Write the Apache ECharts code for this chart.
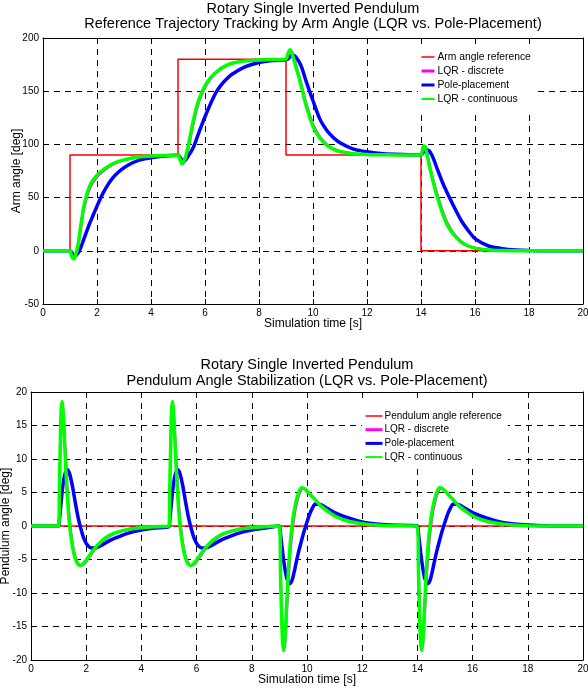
<!DOCTYPE html>
<html>
<head>
    <meta charset="UTF-8">
    <title>Rotary Single Inverted Pendulum</title>
    <script type="text/javascript" src="https://cdn.jsdelivr.net/npm/echarts@6/dist/echarts.min.js"></script>
    <style>
        body, html {
            margin: 0;
            padding: 0;
            background: #fff;
        }
        #chart {
            width: 588px;
            height: 691px;
        }
    </style>
</head>
<body>
<div id="chart"></div>
<script>
    // ---- arm angle plot (top) ----
    var armRefT = [0, 1, 5, 9, 14, 20];
    var armRef = [0, 90, 180, 90, 0, 0];

    var armT = [0, 1.0, 1.05, 1.1, 1.15, 1.2, 1.3, 1.4, 1.5, 1.6, 1.7, 1.8, 2.0, 2.2, 2.4, 2.6, 2.8, 3.0, 3.3, 3.6, 4.0, 4.5,
        5.0, 5.05, 5.1, 5.15, 5.2, 5.3, 5.4, 5.5, 5.6, 5.7, 5.8, 6.0, 6.2, 6.4, 6.6, 6.8, 7.0, 7.5, 8.0, 8.5,
        9.0, 9.05, 9.1, 9.15, 9.2, 9.3, 9.4, 9.5, 9.6, 9.75, 10.0, 10.25, 10.5, 10.75, 11.0, 11.5, 12.0, 12.5, 13.0,
        14.0, 14.05, 14.1, 14.15, 14.2, 14.3, 14.4, 14.5, 14.6, 14.8, 15.0, 15.25, 15.5, 15.75, 16.0, 16.5, 17.0, 17.5, 18.0, 19.0, 20.0];

    var armLqrDisc = [0, 0, -3, -6.5, -7.5, -6, 3, 19, 36, 47, 55.5, 61.5, 69, 74, 78, 81, 83.5, 85, 87, 88, 88.8, 89.5,
        90, 89, 85.5, 82.5, 82, 87, 97, 110, 122, 132.5, 141, 153, 161, 166.5, 170.7, 173.7, 176, 178.4, 179.3, 179.7,
        180, 182, 185.5, 188, 188, 182, 173, 164, 154, 139, 119.5, 107.5, 100.5, 96, 93.7, 91.5, 90.7, 90.3, 90.1,
        90, 93.5, 97.5, 98.5, 95, 84, 73, 63, 54, 38, 25.5, 15.5, 9, 5, 3, 1, 0.3, 0.1, 0, 0, 0];

    var armPole = [0, 0, -1, -3, -4.5, -4.5, -2, 3, 10, 17, 24, 30, 42, 53, 62, 69, 74, 78, 82.5, 85.5, 87.5, 89,
        89.7, 89, 87, 85, 84, 86, 90, 94, 99, 106, 113, 126, 138, 148.5, 156, 161.5, 166, 173, 177, 178.8,
        179.5, 180, 181, 182.5, 183.5, 183.5, 181, 177, 171, 159, 141, 124, 113.5, 106.5, 101.5, 95.5, 93, 91.4, 90.7,
        90.1, 91.5, 93, 94.5, 95, 94, 90, 84, 77, 64, 53, 40, 28, 19, 11.5, 4.5, 2, 0.8, 0.3, 0, 0];

    var armLqrCont = [0, 0, -4, -7, -7.5, -5, 6, 24, 40, 51, 59, 64.5, 71, 75.5, 79, 82, 84, 85.5, 87.3, 88.3, 89, 89.6,
        90, 88, 84, 81.5, 83, 90, 101, 114, 126, 136, 144, 155, 162.5, 167.5, 171.5, 174.3, 176.3, 178.5, 179.4, 179.8,
        180, 183.5, 187, 189, 187, 179, 170, 161, 151, 136, 117, 106, 99.5, 95.5, 93.3, 91.3, 90.6, 90.3, 90.1,
        90, 95, 98.5, 98, 93, 81, 70, 60, 51, 35, 23, 14, 8, 4.5, 2.5, 0.8, 0.2, 0.1, 0, 0, 0];

    // ---- pendulum angle plot (bottom) ----
    var penRefT = [0, 20];
    var penRef = [0, 0];

    var penT = [0, 1.0, 1.03, 1.06, 1.09, 1.12, 1.15, 1.2, 1.25, 1.3, 1.35, 1.4, 1.5, 1.6, 1.7, 1.8, 1.9, 2.0, 2.1, 2.2, 2.3, 2.4, 2.6, 2.8, 3.0, 3.5, 4.0, 4.5,
        5.0, 5.03, 5.06, 5.09, 5.12, 5.15, 5.2, 5.25, 5.3, 5.35, 5.4, 5.5, 5.6, 5.7, 5.8, 5.9, 6.0, 6.1, 6.2, 6.3, 6.4, 6.6, 6.8, 7.0, 7.5, 8.0, 8.5,
        9.0, 9.04, 9.08, 9.12, 9.16, 9.2, 9.25, 9.3, 9.35, 9.4, 9.45, 9.5, 9.55, 9.6, 9.7, 9.8, 9.9, 10.0, 10.1, 10.2, 10.3, 10.5, 10.75, 11.0, 11.5, 12.0, 12.5, 13.0,
        14.0, 14.04, 14.08, 14.12, 14.16, 14.2, 14.25, 14.3, 14.35, 14.4, 14.45, 14.5, 14.55, 14.6, 14.7, 14.8, 14.9, 15.0, 15.1, 15.2, 15.3, 15.5, 15.75, 16.0, 16.5, 17.0, 17.5, 18.0, 19.0, 20.0];

    var penLqrDisc = [0, 0, 4.5, 10, 15, 18, 18.3, 15.5, 11.5, 7.5, 4, 1.3, -2.3, -4.4, -5.5, -5.9, -5.8, -5.4, -4.8, -4.2, -3.6, -3.1, -2.3, -1.7, -1.2, -0.6, -0.3, -0.1,
        0, 4.5, 10, 15, 18, 18.3, 15.5, 11.5, 7.5, 4, 1.3, -2.3, -4.4, -5.5, -5.9, -5.8, -5.4, -4.8, -4.2, -3.6, -3.1, -2.3, -1.7, -1.2, -0.6, -0.3, -0.1,
        0, -5, -11, -16, -18.3, -18, -15, -11, -7.2, -4.2, -1.8, 0, 1.5, 2.7, 4.4, 5.4, 5.6, 5.3, 4.9, 4.4, 4, 3.1, 2.3, 1.6, 0.75, 0.4, 0.2, 0.05,
        0, -5, -11, -16, -18.3, -18, -15, -11, -7.2, -4.2, -1.8, 0, 1.5, 2.7, 4.4, 5.4, 5.6, 5.3, 4.9, 4.4, 4, 3.1, 2.3, 1.6, 0.75, 0.4, 0.2, 0.05, 0, 0];

    var penPole = [0, 0, 1, 2.2, 3.5, 4.8, 5.9, 7.2, 8, 8.4, 8.3, 7.8, 6, 3.6, 1.4, -0.3, -1.7, -2.6, -3.1, -3.3, -3.3, -3.2, -2.8, -2.3, -1.9, -1.1, -0.6, -0.3,
        -0.1, 1, 2.2, 3.5, 4.8, 5.9, 7.2, 8, 8.4, 8.3, 7.8, 6, 3.6, 1.4, -0.3, -1.7, -2.6, -3.1, -3.3, -3.3, -3.2, -2.8, -2.3, -1.9, -1.1, -0.6, -0.3,
        0, -1.2, -2.6, -4, -5.3, -6.4, -7.5, -8.2, -8.6, -8.6, -8.2, -7.5, -6.6, -5.6, -3.8, -2.2, -0.7, 0.6, 1.8, 2.7, 3.3, 3.2, 2.6, 2, 1.2, 0.6, 0.3, 0.15,
        0, -1.2, -2.6, -4, -5.3, -6.4, -7.5, -8.2, -8.6, -8.6, -8.2, -7.5, -6.6, -5.6, -3.8, -2.2, -0.7, 0.6, 1.8, 2.7, 3.3, 3.2, 2.6, 2, 1.2, 0.6, 0.3, 0.15, 0, 0];

    var penLqrCont = [0, 0, 6, 12, 17, 18.6, 17.8, 14, 9.5, 5.5, 2.5, 0, -3, -4.8, -5.7, -5.9, -5.6, -5.1, -4.5, -3.9, -3.4, -2.9, -2.1, -1.5, -1.1, -0.5, -0.25, -0.1,
        0, 6, 12, 17, 18.6, 17.8, 14, 9.5, 5.5, 2.5, 0, -3, -4.8, -5.7, -5.9, -5.6, -5.1, -4.5, -3.9, -3.4, -2.9, -2.1, -1.5, -1.1, -0.5, -0.25, -0.1,
        0, -7, -13.5, -17.5, -18.6, -17, -13, -8.5, -5, -2.3, -0.3, 1.3, 2.6, 3.6, 5, 5.7, 5.6, 5.2, 4.8, 4.3, 3.9, 3, 2.2, 1.5, 0.7, 0.35, 0.15, 0.05,
        0, -7, -13.5, -17.5, -18.6, -17, -13, -8.5, -5, -2.3, -0.3, 1.3, 2.6, 3.6, 5, 5.7, 5.6, 5.2, 4.8, 4.3, 3.9, 3, 2.2, 1.5, 0.7, 0.35, 0.15, 0.05, 0, 0];

    var xTicks = {min: 0, max: 20, interval: 2};
    var armTicks = {min: -50, max: 200, interval: 50};
    var penTicks = {min: -20, max: 20, interval: 5};

    var FONT = '"Liberation Sans", Arial, sans-serif';

    function pairs(t, v) {
        var out = [];
        for (var i = 0; i < t.length; i++) {
            out.push([t[i], v[i]]);
        }
        return out;
    }

    // main axis (with labels and dashed grid)
    function mainAxis(pos, ticks, gridIndex, name, nameGap) {
        return {
            type: 'value',
            gridIndex: gridIndex,
            position: pos,
            min: ticks.min,
            max: ticks.max,
            interval: ticks.interval,
            name: name,
            nameLocation: 'middle',
            nameGap: nameGap,
            nameMoveOverlap: false,
            nameTextStyle: {fontSize: 12, color: '#000', fontFamily: FONT},
            axisLine: {show: true, onZero: false, lineStyle: {color: '#000', width: 1}},
            axisTick: {show: true, inside: true, length: 5, lineStyle: {color: '#000'}},
            axisLabel: {fontSize: 10, color: '#000', fontFamily: FONT, margin: 4},
            splitLine: {show: true, lineStyle: {color: '#000', width: 1, type: [6, 5]}}
        };
    }

    // box axis on the opposite side (ticks only)
    function boxAxis(pos, ticks, gridIndex) {
        return {
            type: 'value',
            gridIndex: gridIndex,
            position: pos,
            min: ticks.min,
            max: ticks.max,
            interval: ticks.interval,
            axisLine: {show: true, onZero: false, lineStyle: {color: '#000', width: 1}},
            axisTick: {show: true, inside: true, length: 5, lineStyle: {color: '#000'}},
            axisLabel: {show: false},
            splitLine: {show: false}
        };
    }

    function lineSeries(name, x, y, data, color, width, step) {
        return {
            name: name,
            type: 'line',
            xAxisIndex: x,
            yAxisIndex: y,
            data: data,
            step: step || false,
            smooth: step ? false : 0.25,
            symbol: 'none',
            silent: true,
            lineStyle: {color: color, width: width},
            itemStyle: {color: color},
            emphasis: {disabled: true}
        };
    }

    // legend entries: line only, no marker
    function legendData(refName) {
        var hide = {opacity: 0, borderWidth: 0};
        return [
            {name: refName, lineStyle: {width: 1.5}, itemStyle: hide},
            {name: 'LQR - discrete', lineStyle: {width: 3}, itemStyle: hide},
            {name: 'Pole-placement', lineStyle: {width: 3}, itemStyle: hide},
            {name: 'LQR - continuous', lineStyle: {width: 2}, itemStyle: hide}
        ];
    }

    function titleText(x, y, txt) {
        return {
            type: 'text',
            x: x,
            y: y,
            silent: true,
            style: {
                text: txt,
                fill: '#000',
                font: '14.5px ' + FONT,
                align: 'center',
                verticalAlign: 'middle'
            }
        };
    }

    var chart = echarts.init(document.getElementById('chart'));
    var option = {
        animation: false,
        backgroundColor: '#fff',
        graphic: [
            titleText(313, 9, 'Rotary Single Inverted Pendulum'),
            titleText(313, 24, 'Reference Trajectory Tracking by Arm Angle (LQR vs. Pole-Placement)'),
            titleText(307, 365, 'Rotary Single Inverted Pendulum'),
            titleText(307, 381, 'Pendulum Angle Stabilization (LQR vs. Pole-Placement)')
        ],
        grid: [
            {left: 43, right: 5, top: 38, height: 266, outerBoundsMode: 'none', containLabel: false},
            {left: 31, right: 5, top: 392, height: 268, outerBoundsMode: 'none', containLabel: false}
        ],
        xAxis: [
            mainAxis('bottom', xTicks, 0, 'Simulation time [s]', 14),
            boxAxis('top', xTicks, 0),
            mainAxis('bottom', xTicks, 1, 'Simulation time [s]', 14),
            boxAxis('top', xTicks, 1)
        ],
        yAxis: [
            mainAxis('left', armTicks, 0, 'Arm angle [deg]', 20),
            boxAxis('right', armTicks, 0),
            mainAxis('left', penTicks, 1, 'Pendulum angle [deg]', 19),
            boxAxis('right', penTicks, 1)
        ],
        legend: [
            {
                orient: 'vertical',
                left: 418,
                top: 46,
                padding: [6, 6, 8, 2],
                itemWidth: 13,
                itemHeight: 10,
                itemGap: 4,
                backgroundColor: '#fff',
                selectedMode: false,
                textStyle: {fontSize: 10.3, color: '#000', fontFamily: FONT, padding: [0, 0, 0, -2]},
                data: legendData('Arm angle reference')
            },
            {
                orient: 'vertical',
                left: 362,
                top: 403,
                padding: [8, 6, 3, 2],
                itemWidth: 17,
                itemHeight: 10,
                itemGap: 3.7,
                backgroundColor: '#fff',
                selectedMode: false,
                textStyle: {fontSize: 10, color: '#000', fontFamily: FONT, padding: [0, 0, 0, -3]},
                data: legendData('Pendulum angle reference')
            }
        ],
        series: [
            lineSeries('Arm angle reference', 0, 0, pairs(armRefT, armRef), '#ff0000', 1.5, 'end'),
            lineSeries('LQR - discrete', 0, 0, pairs(armT, armLqrDisc), '#ff00ff', 2),
            lineSeries('Pole-placement', 0, 0, pairs(armT, armPole), '#0000ff', 3.5),
            lineSeries('LQR - continuous', 0, 0, pairs(armT, armLqrCont), '#00ff00', 3.5),

            lineSeries('Pendulum angle reference', 2, 2, pairs(penRefT, penRef), '#ff0000', 1.5),
            lineSeries('LQR - discrete', 2, 2, pairs(penT, penLqrDisc), '#ff00ff', 2),
            lineSeries('Pole-placement', 2, 2, pairs(penT, penPole), '#0000ff', 3.5),
            lineSeries('LQR - continuous', 2, 2, pairs(penT, penLqrCont), '#00ff00', 3.5)
        ]
    };
    chart.setOption(option);
</script>
</body>
</html>
